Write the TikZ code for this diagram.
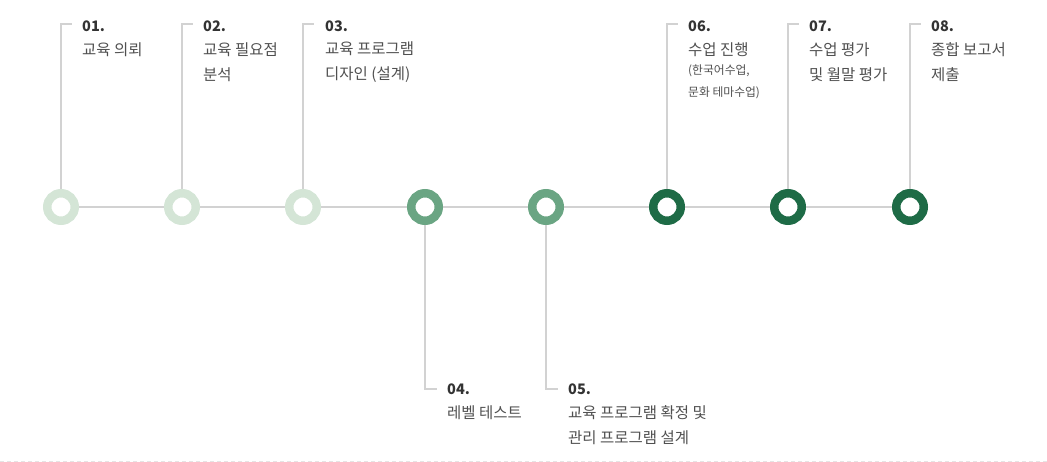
\documentclass[tikz,border=0pt]{standalone}
\usepackage{fontspec}
\setmainfont{Noto Sans CJK KR}
\usepackage{xcolor}
\usetikzlibrary{positioning}
\definecolor{ringlight}{HTML}{D4E5D6}
\definecolor{ringmid}{HTML}{6AA583}
\definecolor{ringdark}{HTML}{1E6B46}
\definecolor{stemgray}{HTML}{D2D2D2}
\definecolor{numtext}{HTML}{333333}
\definecolor{desctext}{HTML}{505050}
\tikzset{
    base_ring/.style={circle, minimum size=27.5pt, inner sep=0pt, line width=8.5pt, fill=white},
    ring_light/.style={base_ring, draw=ringlight},
    ring_mid/.style={base_ring, draw=ringmid},
    ring_dark/.style={base_ring, draw=ringdark},
    stem_line/.style={line width=1.3pt, draw=stemgray},
    num_label/.style={anchor=west, inner sep=0pt, font=\fontsize{14.5}{16}\selectfont\bfseries, text=numtext},
    desc_label/.style={anchor=north west, inner sep=0pt, align=left, font=\fontsize{15.5}{25}\selectfont, text=desctext},
    sub_label/.style={anchor=north west, inner sep=0pt, align=left, font=\fontsize{11.8}{22}\selectfont, text=desctext}
}
\begin{document}
\begin{tikzpicture}[x=1pt, y=-1pt]
\useasboundingbox (0,0) rectangle (1047,462);

\foreach \x/\ring [count=\i] in {61/ring_light, 182/ring_light, 303/ring_light, 425/ring_mid,
                                546/ring_mid, 667/ring_dark, 788/ring_dark, 910/ring_dark} {
    \node[\ring] (c\i) at (\x, 207) {};
}

\foreach \i [evaluate=\i as \j using int(\i+1)] in {1,...,7} {
    \draw[stem_line] (c\i) -- (c\j);
}

% stems above and below the line
\foreach \i in {1,2,3,6,7,8} {
    \coordinate (t\i) at ([xshift=11pt]c\i.center |- 0,24);
    \draw[stem_line] (c\i) |- (t\i);
}
\foreach \i in {4,5} {
    \coordinate (t\i) at ([xshift=12pt]c\i.center |- 0,389);
    \draw[stem_line] (c\i) |- (t\i);
}

\node[num_label] (n1) at (82, 26) {01.};
\node[desc_label] (d1) at (82, 42) {교육 의뢰};

\node[num_label] (n2) at (203, 26) {02.};
\node[desc_label] (d2) at (203, 42) {교육 필요점\\분석};

\node[num_label] (n3) at (325, 26) {03.};
\node[desc_label] (d3) at (325, 42) {교육 프로그램\\디자인 (설계)};

\node[num_label] (n4) at (447, 389) {04.};
\node[desc_label] (d4) at (447, 405) {레벨 테스트};

\node[num_label] (n5) at (568, 389) {05.};
\node[desc_label] (d5) at (568, 405) {교육 프로그램 확정 및\\관리 프로그램 설계};

\node[num_label] (n6) at (688, 26) {06.};
\node[desc_label] (d6) at (688, 42) {수업 진행};
\node[sub_label] (s6) at (688, 65) {(한국어수업,\\문화 테마수업)};

\node[num_label] (n7) at (809, 26) {07.};
\node[desc_label] (d7) at (809, 42) {수업 평가\\및 월말 평가};

\node[num_label] (n8) at (931, 26) {08.};
\node[desc_label] (d8) at (931, 42) {종합 보고서\\제출};

\coordinate (rule_l) at (0, 461);
\coordinate (rule_r) at (1047, 461);
\draw[line width=1pt, draw=gray!20, dash pattern=on 4pt off 3pt] (rule_l) -- (rule_r);
\end{tikzpicture}
\end{document}
